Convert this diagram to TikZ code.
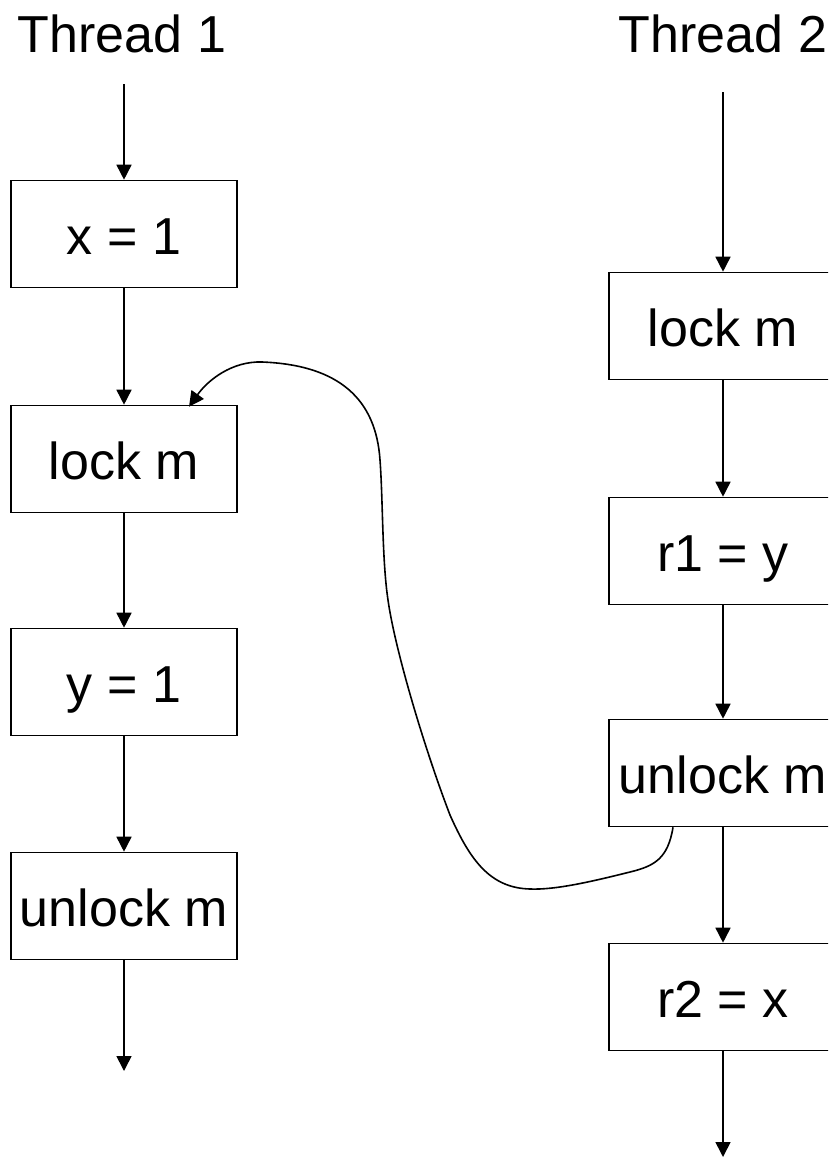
\documentclass[tikz,border=0pt]{standalone}
\usepackage{fontspec}
\setmainfont{Liberation Sans}
\usetikzlibrary{arrows.meta,calc}
\begin{document}
\begin{tikzpicture}[x=1pt,y=-1pt,
  every node/.style={font=\fontsize{52}{60}\selectfont},
  stepbox/.style={draw,line width=1.6pt,minimum width=226pt,minimum height=107pt,inner sep=0pt,text height=40pt,text depth=0pt},
  flow/.style={line width=1.6pt,-{Triangle[width=15pt,length=15pt]}},
  title/.style={anchor=base,inner sep=0pt}]
\useasboundingbox (0,0) rectangle (828,1159);
\clip (0,0) rectangle (828,1159);
\node[title] (t1) at (122,52) {Thread 1};
\node[title] (t2) at (723,52) {Thread 2};
% left column
\coordinate (ls) at (124,84);
\node[stepbox] (la) at (124,234) {x = 1};
\node[stepbox] (lb) at (124,459) {lock m};
\node[stepbox] (lc) at (124,682) {y = 1};
\node[stepbox] (ld) at (124,906) {unlock m};
\coordinate (le) at (124,1071);
% right column
\coordinate (rs) at (723,92);
\node[stepbox,minimum width=228pt] (ra) at (723,326) {lock m};
\node[stepbox,minimum width=228pt] (rb) at (723,551) {r1 = y};
\node[stepbox,minimum width=228pt] (rc) at (723,773) {unlock m};
\node[stepbox,minimum width=228pt] (rd) at (723,997) {r2 = x};
\coordinate (re) at (723,1157);
\draw[flow] (ls) -- (la);
\draw[flow] (la) -- (lb);
\draw[flow] (lb) -- (lc);
\draw[flow] (lc) -- (ld);
\draw[flow] (ld) -- (le);
\draw[flow] (rs) -- (ra);
\draw[flow] (ra) -- (rb);
\draw[flow] (rb) -- (rc);
\draw[flow] (rc) -- (rd);
\draw[flow] (rd) -- (re);
% cross arrow
\coordinate (cs) at ([xshift=-50pt]rc.south);
\coordinate (ce) at ([xshift=65pt,yshift=-2pt]lb.north);
\draw[line width=1.6pt,-{Triangle[width=15pt,length=15pt]}] (cs)
  .. controls (668,858) and (655,866) .. (630,872)
  .. controls (590,882) and (555,890) .. (530,889)
  .. controls (490,888) and (470,860) .. (450,815)
  .. controls (425,750) and (395,650) .. (388,600)
  .. controls (382,560) and (383,500) .. (380,460)
  .. controls (376,400) and (340,365) .. (262,362)
  .. controls (232,361) and (208,380) .. (ce);
\end{tikzpicture}
\end{document}
